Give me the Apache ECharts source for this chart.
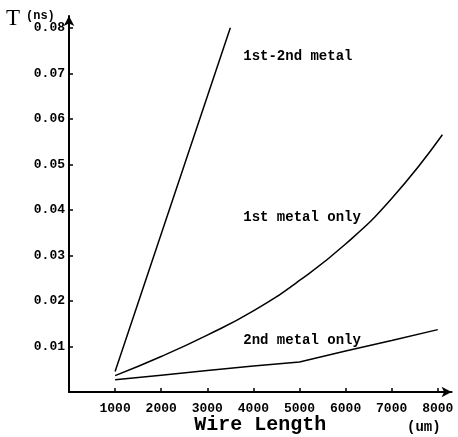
<!DOCTYPE html>
<html>
<head>
<meta charset="utf-8">
<script src="https://cdn.jsdelivr.net/npm/echarts@6/dist/echarts.min.js"></script>
<style>html,body{margin:0;padding:0;background:#fff;}#c{width:458px;height:437px;}</style>
</head>
<body>
<div id="c"></div>
<script>
// Tick labels
const xTicks = [1000, 2000, 3000, 4000, 5000, 6000, 7000, 8000];
const yTicks = [0.01, 0.02, 0.03, 0.04, 0.05, 0.06, 0.07, 0.08];

// Series: wire length (um) vs delay T (ns)
const lenA = [1000, 1500, 2000, 2500, 3000, 3500];
const tA   = [0.0045, 0.0196, 0.0347, 0.0498, 0.0649, 0.0800];   // 1st-2nd metal

const lenB = [1000, 2000, 3000, 4000, 5000, 6000, 7000, 8100];
const tB   = [0.0036, 0.0078, 0.0125, 0.0178, 0.0245, 0.0325, 0.0425, 0.0565]; // 1st metal only

const lenC = [1000, 2000, 3000, 4000, 5000, 6000, 7000, 8000];
const tC   = [0.0027, 0.0037, 0.0047, 0.0057, 0.0066, 0.0090, 0.0113, 0.0137]; // 2nd metal only

const names = ['1st-2nd metal', '1st metal only', '2nd metal only'];

const pairs = (xs, ys) => xs.map((x, i) => [x, ys[i]]);
const mono = '"Liberation Mono", "DejaVu Sans Mono", monospace';

const chart = echarts.init(document.getElementById('c'), null, {renderer: 'canvas'});

function labelMark(coord, text) {
  return {
    symbol: 'rect', symbolSize: 0, silent: true,
    label: {show: true, position: 'right', distance: 0, formatter: '{b}',
      color: '#000', fontFamily: mono, fontWeight: 'bold', fontSize: 14},
    data: [{name: text, coord: coord}]
  };
}

const lineStyle = {color: '#000', width: 1.5};

chart.setOption({
  animation: false,
  backgroundColor: '#fff',
  grid: {left: 69, top: 16, right: 6.4, bottom: 45, containLabel: false, outerBoundsMode: 'none'},
  xAxis: {
    type: 'value', min: 0, max: 8300,
    axisLine: {show: true, symbol: ['none', 'arrow'], symbolSize: [8, 10],
      lineStyle: {color: '#000', width: 2}},
    axisTick: {show: true, inside: true, length: 4, customValues: xTicks,
      lineStyle: {color: '#000', width: 1.5}},
    axisLabel: {show: true, customValues: xTicks, margin: 10, color: '#000',
      fontFamily: mono, fontWeight: 'bold', fontSize: 13,
      formatter: v => String(v)},
    splitLine: {show: false},
    name: 'Wire Length', nameLocation: 'middle', nameGap: 23, nameMoveOverlap: false,
    nameTextStyle: {color: '#000', fontFamily: mono, fontSize: 20, fontWeight: 'bold',
      verticalAlign: 'top'}
  },
  yAxis: {
    type: 'value', min: 0, max: 0.0826,
    axisLine: {show: true, symbol: ['none', 'arrow'], symbolSize: [8, 10],
      lineStyle: {color: '#000', width: 2}},
    axisTick: {show: true, inside: true, length: 4, customValues: yTicks,
      lineStyle: {color: '#000', width: 1.5}},
    axisLabel: {show: true, customValues: yTicks, margin: 4, color: '#000',
      fontFamily: mono, fontWeight: 'bold', fontSize: 13,
      formatter: v => v.toFixed(2)},
    splitLine: {show: false}
  },
  graphic: [
    {type: 'text', left: 6, top: 7, style: {text: 'T', fill: '#000',
      font: '23px "Liberation Serif", serif'}},
    {type: 'text', left: 26, top: 10, style: {text: '(ns)', fill: '#000',
      font: 'bold 12px ' + mono}},
    {type: 'text', left: 407, top: 420, style: {text: '(um)', fill: '#000',
      font: 'bold 14px ' + mono}}
  ],
  series: [
    {type: 'line', name: names[0], data: pairs(lenA, tA), showSymbol: false,
      lineStyle: lineStyle, markPoint: labelMark([3780, 0.0736], names[0])},
    {type: 'line', name: names[1], data: pairs(lenB, tB), showSymbol: false, smooth: 0.5,
      lineStyle: lineStyle, markPoint: labelMark([3780, 0.0383], names[1])},
    {type: 'line', name: names[2], data: pairs(lenC, tC), showSymbol: false,
      lineStyle: lineStyle, markPoint: labelMark([3780, 0.0114], names[2])}
  ]
});
</script>
</body>
</html>
